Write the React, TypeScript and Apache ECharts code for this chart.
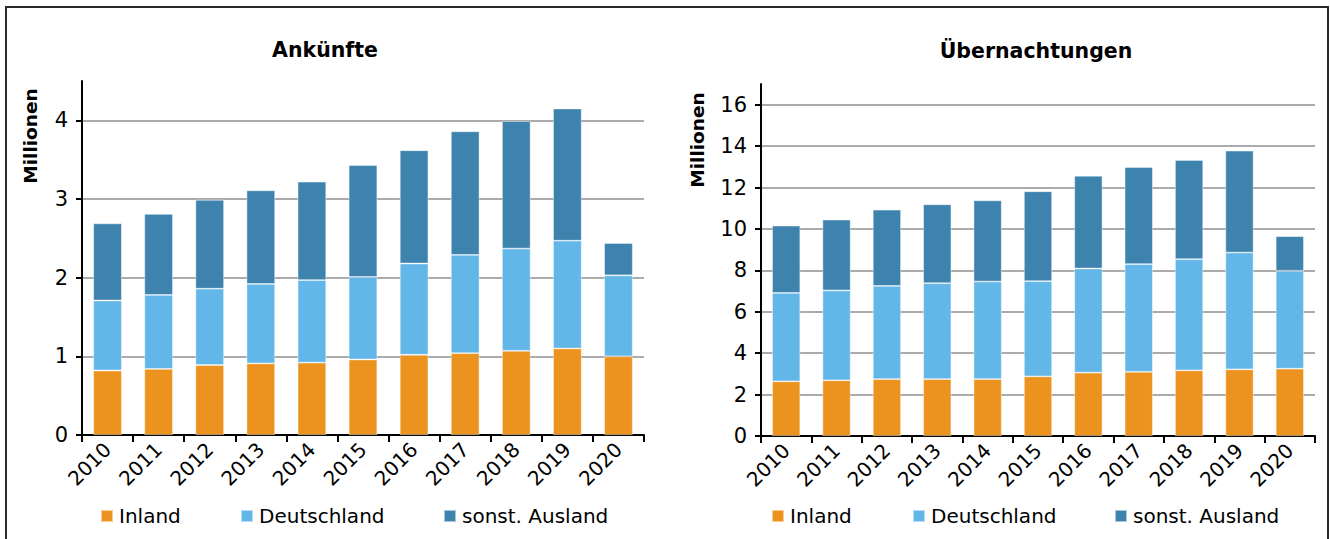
import React, { useEffect, useRef } from "react";
import * as echarts from "echarts";

const years = ["2010", "2011", "2012", "2013", "2014", "2015", "2016", "2017", "2018", "2019", "2020"];
const seriesNames = ["Inland", "Deutschland", "sonst. Ausland"];

// Ankünfte (Millionen)
const arrInland = [0.82, 0.84, 0.89, 0.91, 0.92, 0.96, 1.02, 1.04, 1.07, 1.10, 1.00];
const arrDeutschland = [0.89, 0.94, 0.97, 1.01, 1.05, 1.05, 1.16, 1.25, 1.30, 1.37, 1.03];
const arrAusland = [0.98, 1.03, 1.13, 1.19, 1.25, 1.42, 1.44, 1.57, 1.62, 1.68, 0.41];

// Übernachtungen (Millionen)
const ovnInland = [2.64, 2.69, 2.75, 2.75, 2.75, 2.88, 3.06, 3.10, 3.17, 3.22, 3.25];
const ovnDeutschland = [4.27, 4.34, 4.50, 4.63, 4.71, 4.60, 5.03, 5.20, 5.37, 5.64, 4.73];
const ovnAusland = [3.25, 3.42, 3.68, 3.81, 3.92, 4.34, 4.48, 4.69, 4.79, 4.92, 1.67];

const leftTicks = [0, 1, 2, 3, 4];
const rightTicks = [0, 2, 4, 6, 8, 10, 12, 14, 16];

const colors = ["#EB931E", "#63B7E8", "#3E82AE"];
const FONT = "DejaVu Sans";

export default function App() {
  const ref = useRef<HTMLDivElement>(null);
  useEffect(() => {
    if (!ref.current) return;
    const chart = echarts.init(ref.current, null, { renderer: "svg" });

    const xAxisBase = (gridIndex: number) => ({
      type: "category",
      gridIndex,
      data: years,
      axisLine: { show: true, lineStyle: { color: "#000", width: 2 } },
      axisTick: { show: true, length: 7, lineStyle: { color: "#000", width: 2 } },
      axisLabel: { rotate: 45, fontFamily: FONT, fontSize: 20, color: "#000", margin: 11 },
    });
    const yAxisBase = (gridIndex: number, max: number, interval: number, ticks: number[]) => ({
      type: "value",
      gridIndex,
      min: 0,
      max,
      interval,
      axisLine: { show: true, lineStyle: { color: "#000", width: 2 } },
      axisTick: { show: true, length: 6, customValues: ticks, lineStyle: { color: "#000", width: 2 } },
      axisLabel: {
        fontFamily: FONT, fontSize: 21, color: "#000", margin: 14,
        customValues: ticks,
      },
      splitLine: { show: true, lineStyle: { color: "#8f8f8f", width: 1.5 } },
    });

    const mkSeries = (data: number[], idx: number, axis: number) => ({
      type: "bar",
      name: seriesNames[idx],
      stack: "s" + axis,
      xAxisIndex: axis,
      yAxisIndex: axis,
      data,
      barWidth: "56%",
      itemStyle: { color: colors[idx], borderColor: "rgba(255,255,255,0.55)", borderWidth: 0.8 },
    });

    const legendItem = (name: string, left: number) => ({
      data: [name],
      left,
      top: 506,
      padding: 0,
      itemWidth: 12,
      itemHeight: 12,
      icon: "rect",
      selectedMode: false,
      textStyle: { fontFamily: FONT, fontSize: 20, color: "#000", padding: [0, 0, 0, 1] },
    });

    chart.setOption({
      animation: false,
      textStyle: { fontFamily: FONT },
      grid: [
        { left: 82, top: 81, width: 562, height: 354 },
        { left: 761, top: 84, width: 554, height: 352 },
      ],
      xAxis: [xAxisBase(0), xAxisBase(1)],
      yAxis: [yAxisBase(0, 4.5, 1, leftTicks), yAxisBase(1, 17, 2, rightTicks)],
      legend: [
        legendItem(seriesNames[0], 100),
        legendItem(seriesNames[1], 240),
        legendItem(seriesNames[2], 443),
        legendItem(seriesNames[0], 771),
        legendItem(seriesNames[1], 912),
        legendItem(seriesNames[2], 1114),
      ],
      graphic: [
        {
          type: "rect",
          shape: { x: 6, y: 7, width: 1322, height: 620 },
          style: { fill: "none", stroke: "#2a2a2a", lineWidth: 2 },
          silent: true,
        },
        {
          type: "text", x: 325, y: 50,
          style: { text: "Ankünfte", font: `bold 20.5px "${FONT}"`, fill: "#000", align: "center", verticalAlign: "middle" },
        },
        {
          type: "text", x: 1036, y: 51,
          style: { text: "Übernachtungen", font: `bold 20.5px "${FONT}"`, fill: "#000", align: "center", verticalAlign: "middle" },
        },
        {
          type: "text", x: 30, y: 136, rotation: Math.PI / 2,
          style: { text: "Millionen", font: `bold 18.5px "${FONT}"`, fill: "#000", align: "center", verticalAlign: "middle" },
        },
        {
          type: "text", x: 697, y: 140, rotation: Math.PI / 2,
          style: { text: "Millionen", font: `bold 18.5px "${FONT}"`, fill: "#000", align: "center", verticalAlign: "middle" },
        },
      ],
      series: [
        mkSeries(arrInland, 0, 0),
        mkSeries(arrDeutschland, 1, 0),
        mkSeries(arrAusland, 2, 0),
        mkSeries(ovnInland, 0, 1),
        mkSeries(ovnDeutschland, 1, 1),
        mkSeries(ovnAusland, 2, 1),
      ],
    });
    return () => chart.dispose();
  }, []);
  return (
    <div
      ref={ref}
      style={{ position: "fixed", left: 0, top: 0, width: 1330, height: 539, background: "#fff" }}
    />
  );
}
